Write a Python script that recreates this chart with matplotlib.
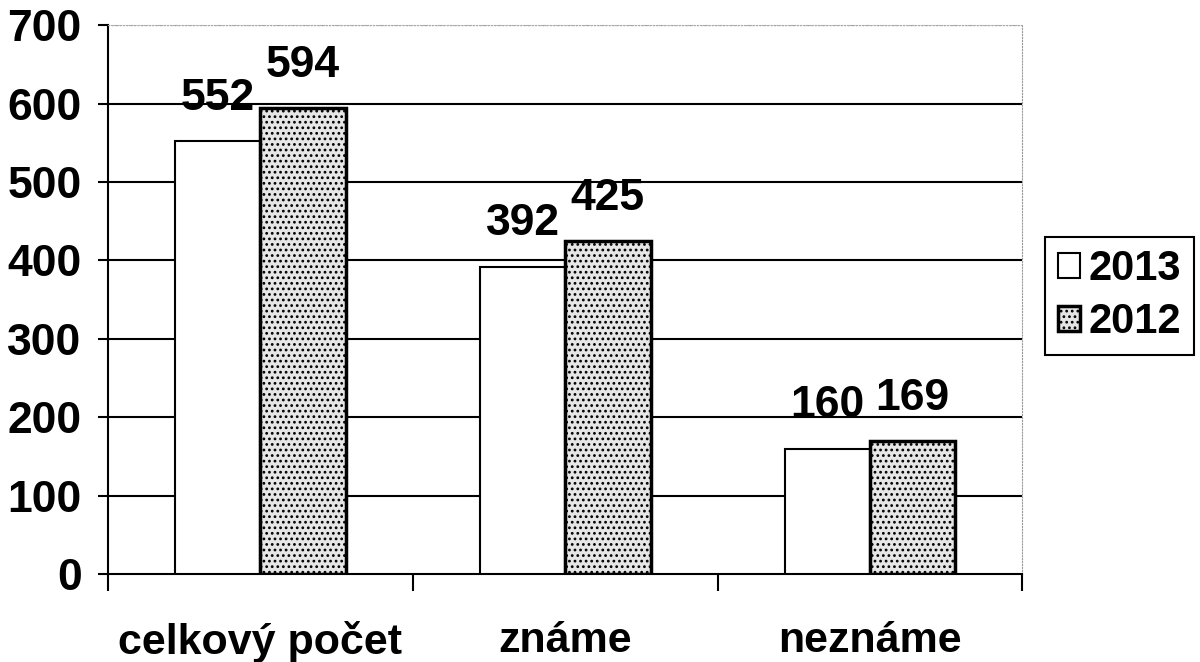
import matplotlib
matplotlib.use("Agg")
import matplotlib.pyplot as plt
import numpy as np

categories = ["celkový počet", "známe", "neznáme"]
series_names = ["2013", "2012"]
values_2013 = [552, 392, 160]
values_2012 = [594, 425, 169]
yticks = [0, 100, 200, 300, 400, 500, 600, 700]

plt.rcParams['font.family'] = ['Liberation Sans', 'DejaVu Sans']
plt.rcParams['font.weight'] = 'bold'
plt.rcParams['hatch.linewidth'] = 1.2

fig = plt.figure(figsize=(12, 6.62), dpi=100)
ax = fig.add_axes([0.09, 0.133, 0.762, 0.829])

x = np.arange(len(categories))
w = 0.28
b1 = ax.bar(x - w / 2, values_2013, w, color='white', edgecolor='black', linewidth=1.5, zorder=3, label=series_names[0])
b2 = ax.bar(x + w / 2, values_2012, w, color='#e6e6e6', edgecolor='black', linewidth=2.5, hatch='...', zorder=3, label=series_names[1])

for bars in (b1, b2):
    for r in bars:
        ax.annotate(f"{int(r.get_height())}", (r.get_x() + r.get_width() / 2, r.get_height()),
                    xytext=(0, 16), textcoords='offset points', ha='center', va='bottom',
                    fontsize=32, fontweight='bold')

ax.set_xlim(-0.5, len(categories) - 0.5)
ax.set_ylim(0, 700)
ax.set_yticks(yticks)
ax.set_yticklabels([str(v) for v in yticks], fontsize=32, fontweight='bold')
ax.set_xticks(x)
ax.set_xticklabels(categories, fontsize=31, fontweight='bold')
ax.tick_params(axis='x', which='major', length=0, pad=34)
ax.set_xticks(np.arange(-0.5, len(categories), 1.0), minor=True)
ax.tick_params(axis='x', which='minor', length=12, width=1.5, direction='out')
ax.tick_params(axis='y', length=7, width=1.5, direction='out', pad=12)

for v in yticks[1:-1]:
    ax.axhline(v, color='black', linewidth=1.5, zorder=1)
ax.axhline(700, color='#999999', linewidth=1, linestyle=':', zorder=1)

ax.spines['left'].set_linewidth(1.5)
ax.spines['bottom'].set_linewidth(1.5)
ax.spines['top'].set_color('#aaaaaa')
ax.spines['top'].set_linestyle(':')
ax.spines['right'].set_color('#999999')
ax.spines['right'].set_linestyle(':')

leg = fig.legend(handles=[b1, b2], labels=series_names, loc='upper left',
                 bbox_to_anchor=(1045 / 1200, 1 - 237 / 662), borderaxespad=0,
                 frameon=True, fancybox=False, framealpha=1,
                 edgecolor='black', handlelength=0.55, handleheight=0.55, handletextpad=0.2,
                 borderpad=0.3, labelspacing=0.3, prop={'weight': 'bold', 'size': 30})
leg.get_frame().set_linewidth(1.5)

fig.savefig("out.png", dpi=100)
